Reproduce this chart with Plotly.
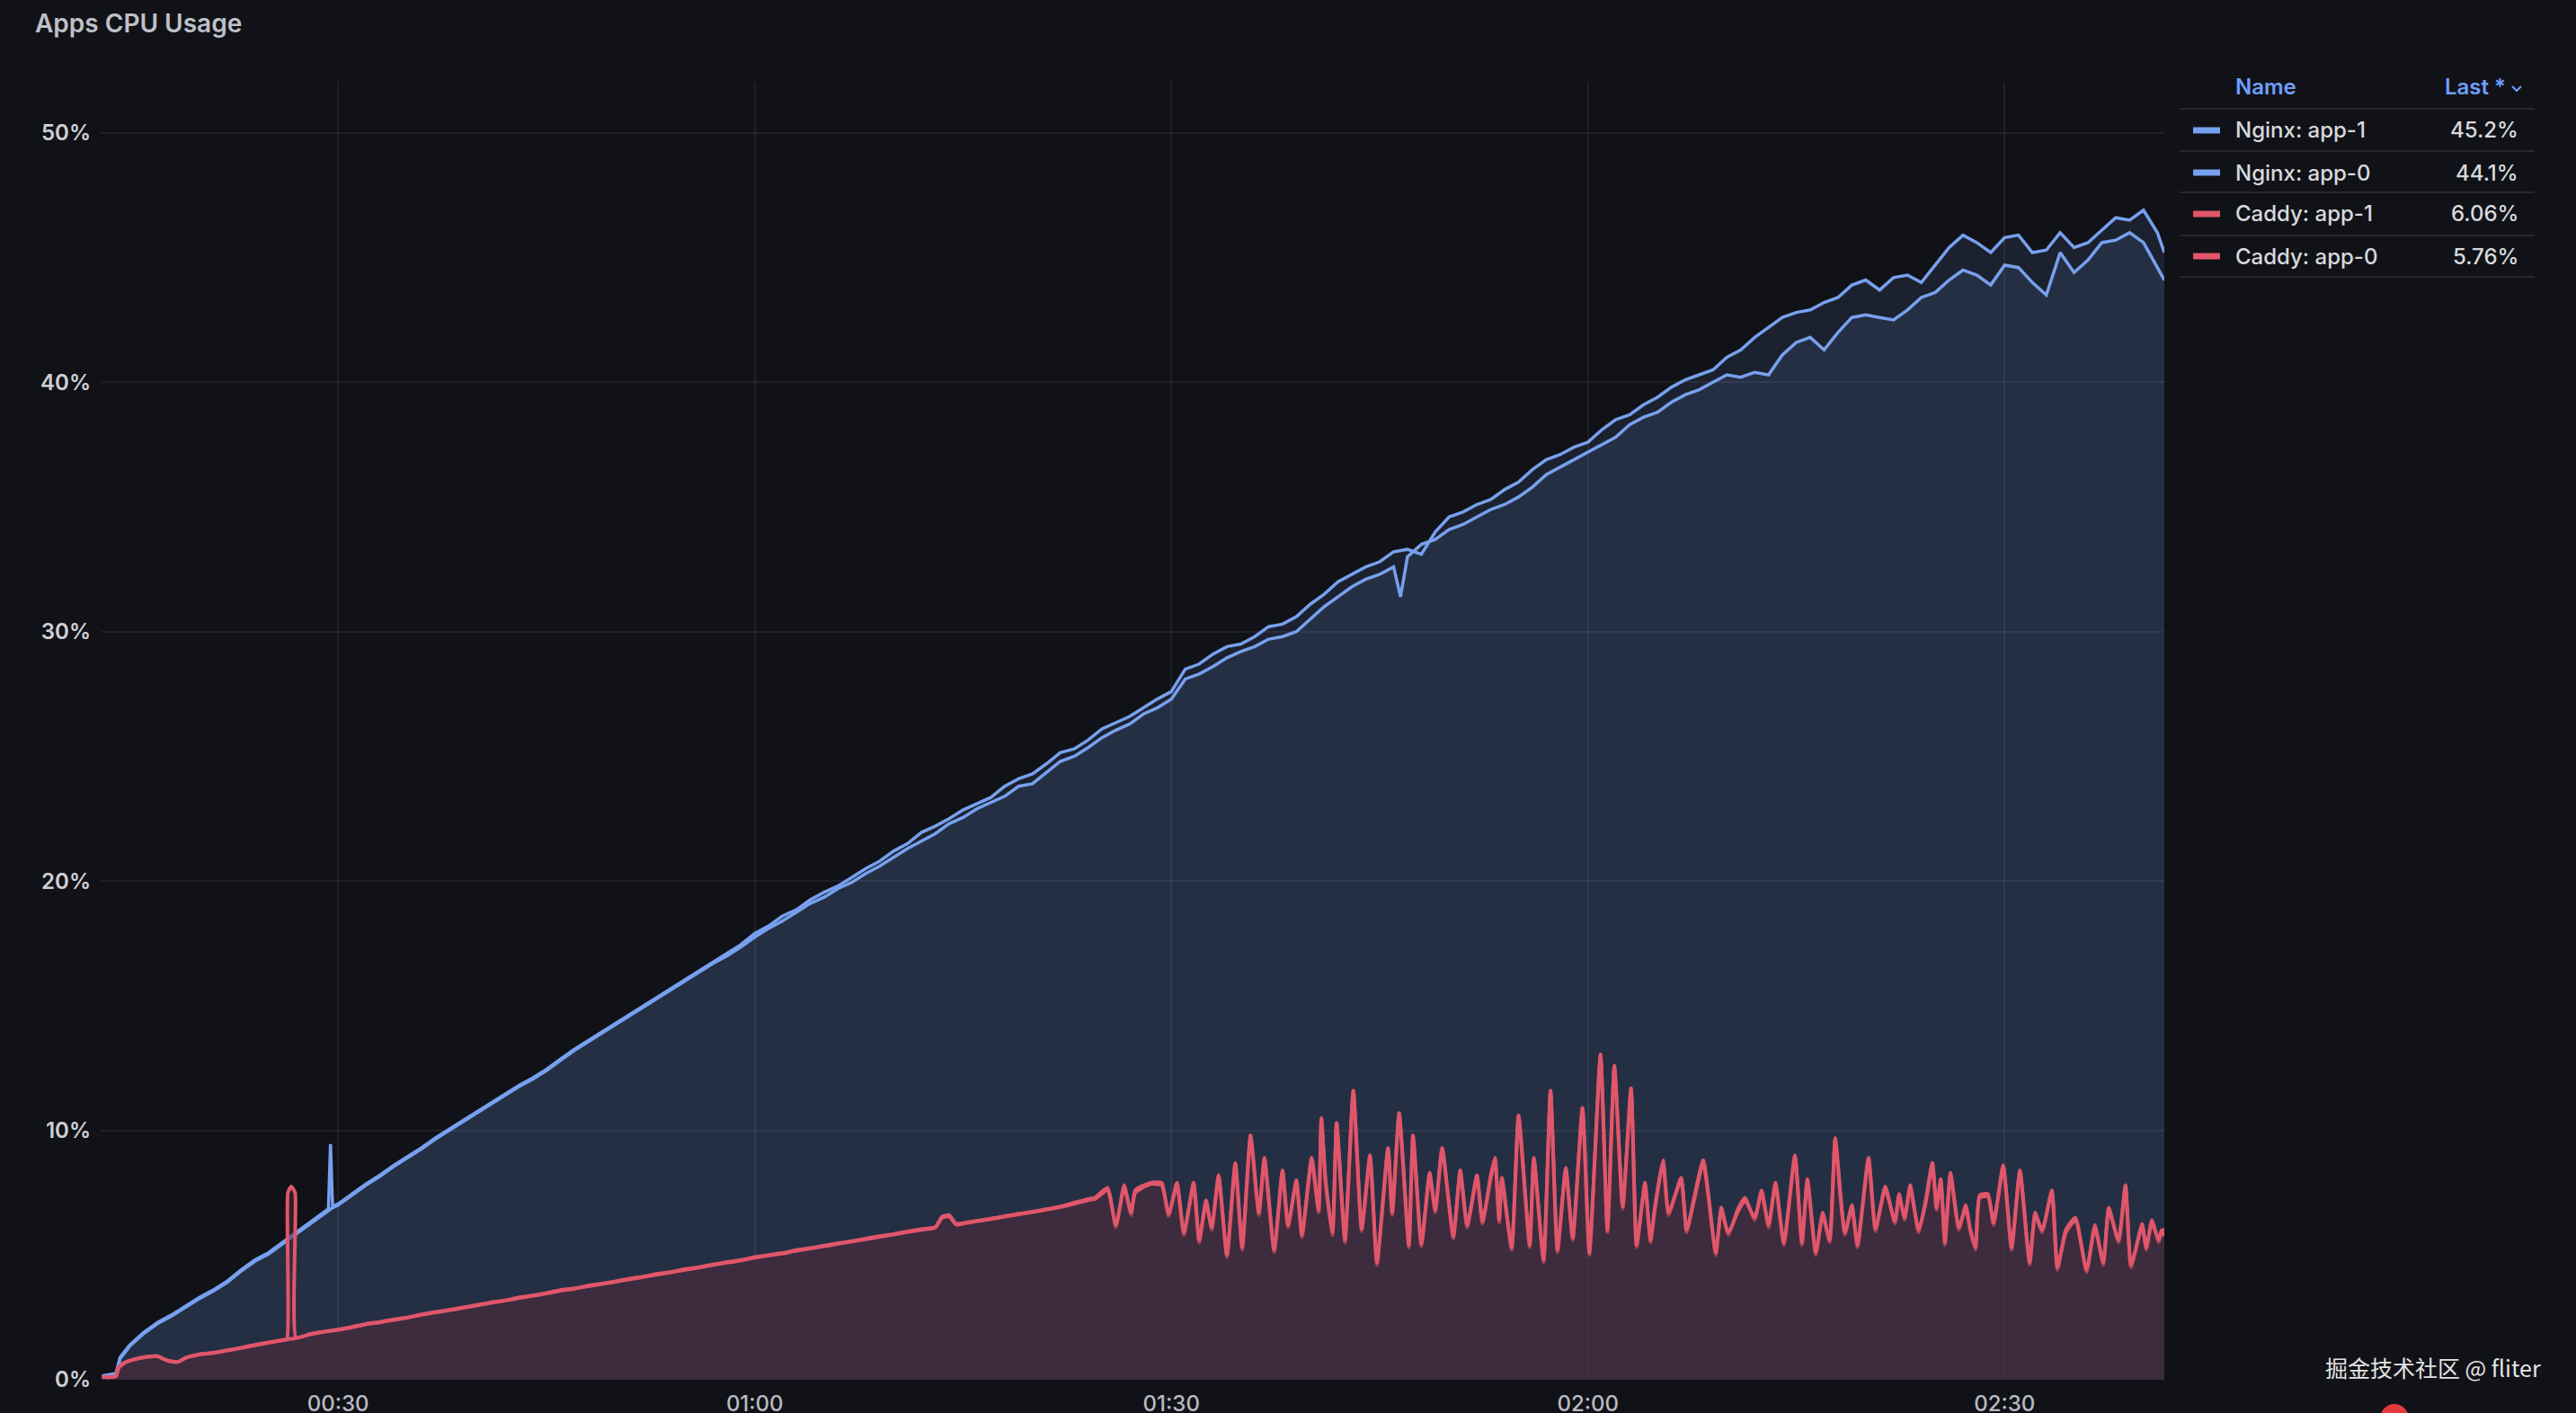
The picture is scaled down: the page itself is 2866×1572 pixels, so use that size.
import pandas as pd
import plotly.graph_objects as go

# ---------------- data ----------------
title_text = "Apps CPU Usage"
series_names = ["Nginx: app-1", "Nginx: app-0", "Caddy: app-1", "Caddy: app-0"]
x_tick_minutes = [30, 60, 90, 120, 150]
x_tick_labels = ["00:30", "01:00", "01:30", "02:00", "02:30"]
y_tick_values = [0, 10, 20, 30, 40, 50]
watermark = "掘金技术社区 @ fliter"

# minutes after 00:00
nginx_minutes = [
    13, 14, 14.3, 15, 16, 17, 18, 19, 20, 21, 22, 23, 24, 25, 26, 27, 28, 29, 29.3, 29.45, 29.6,
    30, 31, 32, 33, 34, 35, 36, 37, 38, 39, 40, 41, 42, 43, 44, 45, 46, 47, 48, 49,
    50, 51, 52, 53, 54, 55, 56, 57, 58, 59, 60, 61, 62, 63, 64, 65, 66, 67, 68, 69,
    70, 71, 72, 73, 74, 75, 76, 77, 78, 79, 80, 81, 82, 83, 84, 85, 86, 87, 88, 89,
    90, 91, 92, 93, 94, 95, 96, 97, 98, 99, 100, 101, 102, 103, 104, 105, 106, 106.5,
    107, 108, 109, 110, 111, 112, 113, 114, 115, 116, 117, 118, 119, 120, 121, 122, 123, 124,
    125, 126, 127, 128, 129, 130, 131, 132, 133, 134, 135, 136, 137, 138, 139, 140, 141, 142,
    143, 144, 145, 146, 147, 148, 149, 150, 151, 152, 153, 154, 155, 156, 157, 158, 159, 160,
    161, 161.5,
]
nginx_app1 = [
    0.15, 0.25, 0.9, 1.4, 1.9, 2.3, 2.6, 2.95, 3.3, 3.6, 3.95, 4.4, 4.8, 5.1, 5.5, 5.9, 6.3, 6.7, 6.85, 9.45, 6.95,
    7.05, 7.45, 7.85, 8.2, 8.6, 8.95, 9.3, 9.7, 10.05, 10.4, 10.75, 11.1, 11.45, 11.8, 12.1, 12.45, 12.85, 13.25, 13.6, 13.95,
    14.3, 14.65, 15.0, 15.35, 15.7, 16.05, 16.4, 16.75, 17.1, 17.45, 17.9, 18.2, 18.6, 18.85, 19.25, 19.55, 19.8, 20.15, 20.5, 20.8,
    21.2, 21.5, 21.95, 22.2, 22.5, 22.85, 23.1, 23.35, 23.8, 24.1, 24.3, 24.7, 25.15, 25.3, 25.65, 26.1, 26.35, 26.6, 26.95, 27.3,
    27.6, 28.5, 28.7, 29.1, 29.4, 29.5, 29.8, 30.2, 30.3, 30.6, 31.1, 31.5, 32.0, 32.3, 32.6, 32.8, 33.2, 33.25,
    33.3, 33.1, 34.0, 34.6, 34.8, 35.1, 35.3, 35.7, 36.0, 36.5, 36.9, 37.1, 37.4, 37.6, 38.1, 38.5, 38.7, 39.1,
    39.4, 39.8, 40.1, 40.3, 40.5, 41.0, 41.3, 41.8, 42.2, 42.6, 42.8, 42.9, 43.2, 43.4, 43.9, 44.1, 43.7, 44.2,
    44.3, 44.0, 44.7, 45.4, 45.9, 45.6, 45.2, 45.8, 45.9, 45.2, 45.3, 46.0, 45.4, 45.6, 46.1, 46.6, 46.5, 46.9,
    46.0, 45.2,
]
nginx_app0 = [
    0.15, 0.2, 0.85, 1.35, 1.85, 2.25, 2.55, 2.9, 3.25, 3.55, 3.9, 4.35, 4.75, 5.05, 5.45, 5.85, 6.25, 6.65, 6.8, 6.85, 6.9,
    7.0, 7.4, 7.8, 8.15, 8.55, 8.9, 9.25, 9.65, 10.0, 10.35, 10.7, 11.05, 11.4, 11.75, 12.05, 12.4, 12.8, 13.2, 13.55, 13.9,
    14.25, 14.6, 14.95, 15.3, 15.65, 16.0, 16.35, 16.7, 17.0, 17.35, 17.75, 18.1, 18.4, 18.75, 19.1, 19.35, 19.7, 19.95, 20.3, 20.6,
    20.95, 21.3, 21.6, 21.9, 22.3, 22.55, 22.9, 23.15, 23.4, 23.8, 23.9, 24.35, 24.8, 25.0, 25.35, 25.75, 26.05, 26.3, 26.7, 26.95,
    27.3, 28.1, 28.3, 28.6, 28.95, 29.2, 29.4, 29.7, 29.8, 30.0, 30.5, 31.0, 31.4, 31.8, 32.1, 32.3, 32.6, 31.4,
    33.0, 33.5, 33.7, 34.1, 34.3, 34.6, 34.9, 35.1, 35.4, 35.8, 36.3, 36.6, 36.9, 37.2, 37.5, 37.8, 38.3, 38.6,
    38.8, 39.2, 39.5, 39.7, 40.0, 40.3, 40.2, 40.4, 40.3, 41.1, 41.6, 41.8, 41.3, 42.0, 42.6, 42.7, 42.6, 42.5,
    42.9, 43.4, 43.6, 44.1, 44.5, 44.3, 43.9, 44.7, 44.6, 44.0, 43.5, 45.2, 44.4, 44.9, 45.6, 45.7, 46.0, 45.6,
    44.6, 44.1,
]

caddy_minutes = [
    13, 13.5, 14, 14.2, 14.5, 15, 16, 17, 17.5, 18, 18.5, 19, 20, 21, 22, 23, 24, 25, 26,
    26.3, 26.38, 26.62, 26.9, 26.98, 28, 29, 30, 31, 32, 33, 34, 35, 36, 37, 38, 39, 40,
    41, 42, 43, 44, 45, 46, 47, 48, 49, 50, 51, 52, 53, 54, 55, 56, 57, 58, 59, 60,
    61, 62, 63, 64, 65, 66, 67, 68, 69, 70, 71, 72, 73, 73.5, 74, 74.5, 75, 76, 77, 78,
    79, 80, 81, 82, 83, 84,
    84.5, 85.4, 86.0, 86.6, 87.1, 87.4, 88.5, 89.3, 89.8, 90.4, 90.9, 91.6, 92.0, 92.5, 92.9,
    93.4, 94.0, 94.6, 95.1, 95.7, 96.3, 96.7, 97.4, 98.0, 98.4, 99.0, 99.4, 100.1, 100.6, 100.8,
    101.1, 101.6, 101.9, 102.5, 103.1, 103.7, 104.3, 104.8, 105.6, 105.9, 106.4, 107.1, 107.4,
    108.0, 108.6, 109.0, 109.5, 110.3, 110.8, 111.3, 112.0, 112.4, 113.0, 113.3, 113.6, 113.8,
    114.5, 115.0, 115.8, 116.1, 116.8, 117.3, 117.8, 118.4, 118.9, 119.6, 120.1, 120.9, 121.4,
    121.9, 122.5, 123.1, 123.5, 124.1, 124.5, 124.8, 125.4, 125.8, 126.7, 127.1, 127.6, 128.3,
    129.2, 129.6, 130.1, 130.8, 131.3, 132.0, 132.5, 133.0, 133.5, 134.1, 134.9, 135.4, 135.8,
    136.4, 136.9, 137.4, 137.8, 138.2, 138.5, 139.0, 139.4, 140.2, 140.7, 141.4, 142.1, 142.4,
    142.8, 143.2, 143.8, 144.3, 144.8, 145.1, 145.4, 145.7, 146.1, 146.7, 147.2, 147.5, 147.9,
    148.2, 148.8, 149.2, 149.9, 150.5, 151.1, 151.8, 152.2, 152.7, 153.4, 153.8, 154.4, 155.1,
    155.9, 156.5, 157.1, 157.5, 158.2, 158.7, 159.1, 159.9, 160.2, 160.6, 161.1, 161.3, 161.5,
]
caddy_app1 = [
    0.12, 0.1, 0.15, 0.5, 0.65, 0.77, 0.9, 0.95, 0.82, 0.74, 0.72, 0.88, 1.02, 1.08, 1.18, 1.28, 1.4, 1.5, 1.6,
    1.62, 7.5, 7.75, 7.5, 1.68, 1.84, 1.93, 2.02, 2.12, 2.24, 2.32, 2.42, 2.5, 2.62, 2.72, 2.8, 2.9, 3.0,
    3.1, 3.18, 3.3, 3.38, 3.48, 3.6, 3.66, 3.78, 3.86, 3.95, 4.06, 4.14, 4.25, 4.33, 4.44, 4.52, 4.62, 4.72, 4.8, 4.92,
    5.0, 5.08, 5.2, 5.28, 5.38, 5.48, 5.56, 5.66, 5.76, 5.84, 5.95, 6.04, 6.12, 6.55, 6.6, 6.25, 6.28, 6.38, 6.46, 6.56,
    6.66, 6.74, 6.84, 6.95, 7.1, 7.25,
    7.3, 7.7, 6.1, 7.8, 6.6, 7.6, 7.9, 7.9, 6.55, 7.9, 5.8, 7.9, 5.5, 7.2, 6.0,
    8.2, 4.9, 8.7, 5.2, 9.8, 6.6, 8.9, 5.1, 8.4, 6.1, 8.0, 5.7, 8.9, 6.7, 10.5,
    7.9, 5.8, 10.3, 5.5, 11.6, 5.95, 9.0, 4.6, 9.3, 6.6, 10.7, 5.3, 9.8,
    5.35, 8.3, 6.7, 9.3, 5.65, 8.4, 6.1, 8.2, 6.25, 8.2, 8.9, 6.3, 8.1,
    5.2, 10.6, 5.3, 8.9, 4.7, 11.6, 5.1, 8.5, 5.6, 10.9, 5.0, 13.05, 5.9,
    12.6, 6.85, 11.7, 5.3, 7.9, 5.5, 6.85, 8.8, 6.6, 8.1, 5.9, 7.2, 8.8,
    5.0, 6.9, 5.8, 6.85, 7.3, 6.4, 7.6, 6.1, 7.9, 5.4, 9.0, 5.4, 8.05,
    5.0, 6.7, 5.5, 9.7, 7.3, 5.8, 7.0, 5.3, 8.9, 5.95, 7.75, 6.25, 7.45,
    6.4, 7.8, 5.9, 7.15, 8.7, 6.8, 8.05, 5.4, 8.3, 6.0, 7.0, 6.0, 5.2,
    7.4, 7.45, 6.2, 8.6, 5.2, 8.4, 4.6, 6.7, 5.9, 7.6, 4.4, 6.0, 6.5,
    4.3, 6.2, 4.6, 6.9, 5.5, 7.8, 4.5, 6.25, 5.2, 6.4, 5.5, 5.9, 6.06,
]
caddy_app0 = [
    0.12, 0.1, 0.14, 0.48, 0.63, 0.76, 0.89, 0.94, 0.81, 0.73, 0.72, 0.87, 1.01, 1.07, 1.17, 1.27, 1.38, 1.49, 1.58,
    1.61, 1.62, 1.64, 1.66, 1.67, 1.82, 1.92, 2.0, 2.1, 2.22, 2.3, 2.4, 2.49, 2.6, 2.7, 2.78, 2.88, 2.98,
    3.08, 3.17, 3.27, 3.36, 3.46, 3.57, 3.65, 3.75, 3.84, 3.93, 4.03, 4.12, 4.22, 4.31, 4.41, 4.5, 4.6, 4.69, 4.78, 4.89,
    4.98, 5.06, 5.17, 5.26, 5.35, 5.45, 5.54, 5.63, 5.73, 5.82, 5.92, 6.01, 6.1, 6.5, 6.55, 6.22, 6.26, 6.36, 6.44, 6.54,
    6.63, 6.72, 6.82, 6.92, 7.05, 7.2,
    7.25, 7.6, 6.2, 7.7, 6.7, 7.5, 7.85, 7.8, 6.65, 7.8, 5.9, 7.8, 5.6, 7.1, 6.1,
    8.1, 5.0, 8.6, 5.3, 9.7, 6.7, 8.8, 5.2, 8.3, 6.2, 7.9, 5.8, 8.8, 6.8, 10.4,
    8.0, 5.9, 10.2, 5.6, 11.5, 6.05, 8.9, 4.7, 9.2, 6.7, 10.6, 5.4, 9.7,
    5.45, 8.2, 6.8, 9.2, 5.75, 8.3, 6.2, 8.1, 6.35, 8.1, 8.8, 6.4, 8.0,
    5.3, 10.5, 5.4, 8.8, 4.8, 11.5, 5.2, 8.4, 5.7, 10.8, 5.1, 12.9, 6.0,
    12.5, 6.95, 11.6, 5.4, 7.8, 5.6, 6.8, 8.7, 6.7, 8.0, 6.0, 7.1, 8.7,
    5.1, 6.8, 5.9, 6.75, 7.2, 6.5, 7.5, 6.2, 7.8, 5.5, 8.9, 5.5, 7.95,
    5.1, 6.6, 5.6, 9.6, 7.2, 5.9, 6.9, 5.4, 8.8, 6.05, 7.65, 6.35, 7.35,
    6.5, 7.7, 6.0, 7.05, 8.6, 6.9, 7.95, 5.5, 8.2, 6.1, 6.9, 6.1, 5.3,
    7.3, 7.35, 6.3, 8.5, 5.3, 8.3, 4.7, 6.6, 6.0, 7.5, 4.5, 5.9, 6.4,
    4.4, 6.1, 4.7, 6.8, 5.6, 7.7, 4.6, 6.15, 5.3, 6.3, 5.6, 6.0, 5.76,
]

# ---------------- styling ----------------
BG = "#111217"
BLUE = "#77a1ee"
RED = "#e0566a"
BLUE_FILL = "rgba(115,160,238,0.115)"
RED_FILL = "rgba(70,41,60,0.5)"
GRID = "rgba(204,204,220,0.08)"
TEXT = "#c9cad1"
FONT = "Inter, Roboto, 'Noto Sans', sans-serif"

W, H = 2866, 1572
OFF = 8  # the page body margin shifts the figure by this many pixels
L, T = 112 - OFF, 91 - OFF
PW, PH = 2296, 1444
R, B = W - L - PW, H - T - PH


def pxx(x):
    """page x pixel -> paper coordinate"""
    return (x - OFF - L) / PW


def pxy(y):
    """page y pixel -> paper coordinate"""
    return (T + PH - (y - OFF)) / PH


base = pd.Timestamp("2024-01-01")


def to_time(minutes):
    return base + pd.to_timedelta(minutes, unit="m")


nx = to_time(nginx_minutes)
cx = to_time(caddy_minutes)

series = [
    (series_names[0], nx, nginx_app1, BLUE, BLUE_FILL, "linear", 3.5),
    (series_names[1], nx, nginx_app0, BLUE, BLUE_FILL, "linear", 3.5),
    (series_names[2], cx, caddy_app1, RED, RED_FILL, "spline", 4),
    (series_names[3], cx, caddy_app0, RED, RED_FILL, "spline", 4),
]

fig = go.Figure()
for name, xs, ys, col, fcol, shape, lw in series:
    fig.add_trace(go.Scatter(
        x=xs, y=ys, name=name, mode="lines",
        line=dict(color=col, width=lw, shape=shape, smoothing=0.5),
        fill="tozeroy", fillcolor=fcol, showlegend=False,
    ))

fig.update_layout(
    width=W, height=H,
    margin=dict(l=L, r=R, t=T, b=B, autoexpand=False),
    paper_bgcolor=BG, plot_bgcolor=BG,
    font=dict(family=FONT, color=TEXT, size=24),
    xaxis=dict(
        type="date",
        range=[to_time(12.9), to_time(161.5)],
        tickvals=to_time(x_tick_minutes), ticktext=x_tick_labels,
        showgrid=True, gridcolor=GRID, gridwidth=2, zeroline=False, showline=False,
        ticks="", ticklabelstandoff=10,
        tickfont=dict(size=24, color="#b9bac2", family=FONT, weight=500),
    ),
    yaxis=dict(
        range=[0, 52.05],
        tickvals=y_tick_values, ticktext=[f"{v}%" for v in y_tick_values],
        showgrid=True, gridcolor=GRID, gridwidth=2, zeroline=False, showline=False,
        ticks="", ticklabelstandoff=10,
        tickfont=dict(size=24, color="#cfd0d6", family=FONT, weight=600),
    ),
)

annotations = []
shapes = []

# panel title
annotations.append(dict(
    x=pxx(37), y=pxy(26), xref="paper", yref="paper", xanchor="left", yanchor="middle",
    text=title_text, showarrow=False,
    font=dict(size=28, color="#bfc0c7", family=FONT, weight=600),
))

# legend table
annotations.append(dict(
    x=pxx(2485), y=pxy(97), xref="paper", yref="paper", xanchor="left", yanchor="middle",
    text="Name", showarrow=False, font=dict(size=24, color="#6e9fff", family=FONT, weight=600),
))
annotations.append(dict(
    x=pxx(2790), y=pxy(97), xref="paper", yref="paper", xanchor="right", yanchor="middle",
    text="Last *", showarrow=False, font=dict(size=24, color="#6e9fff", family=FONT, weight=600),
))
shapes.append(dict(
    type="path", xref="paper", yref="paper",
    path=f"M {pxx(2795)} {pxy(96)} L {pxx(2800)} {pxy(101)} L {pxx(2805)} {pxy(96)}",
    line=dict(color="#6e9fff", width=2),
))
for sy in [121, 168, 214, 262, 308]:
    shapes.append(dict(
        type="line", xref="paper", yref="paper",
        x0=pxx(2425), x1=pxx(2820), y0=pxy(sy), y1=pxy(sy),
        line=dict(color="rgba(204,204,220,0.12)", width=2),
    ))
row_y = [145, 192, 238, 285]
for (name, xs, ys, col, fcol, shape, lw), ry in zip(series, row_y):
    shapes.append(dict(
        type="rect", xref="paper", yref="paper",
        x0=pxx(2440), x1=pxx(2470), y0=pxy(ry + 3.5), y1=pxy(ry - 3.5),
        fillcolor=col, line=dict(width=0),
    ))
    annotations.append(dict(
        x=pxx(2485), y=pxy(ry), xref="paper", yref="paper", xanchor="left", yanchor="middle",
        text=name, showarrow=False, font=dict(size=24, color="#d8d9de", family=FONT, weight=500),
    ))
    annotations.append(dict(
        x=pxx(2804), y=pxy(ry), xref="paper", yref="paper", xanchor="right", yanchor="middle",
        text=f"{ys[-1]:.3g}%", showarrow=False,
        font=dict(size=24, color="#d8d9de", family=FONT, weight=500),
    ))

# watermark and recording dot
annotations.append(dict(
    x=pxx(2829), y=pxy(1521), xref="paper", yref="paper", xanchor="right", yanchor="middle",
    text=watermark, showarrow=False,
    font=dict(size=25, color="#e4e4e4", family="Noto Sans CJK SC, sans-serif"),
))
shapes.append(dict(
    type="circle", xref="paper", yref="paper",
    x0=pxx(2648), x1=pxx(2680), y0=pxy(1594), y1=pxy(1562),
    fillcolor="#e5393f", line=dict(width=0),
))

fig.update_layout(annotations=annotations, shapes=shapes)
fig.write_html("out.html", post_script="document.body.style.background='#111217';")
